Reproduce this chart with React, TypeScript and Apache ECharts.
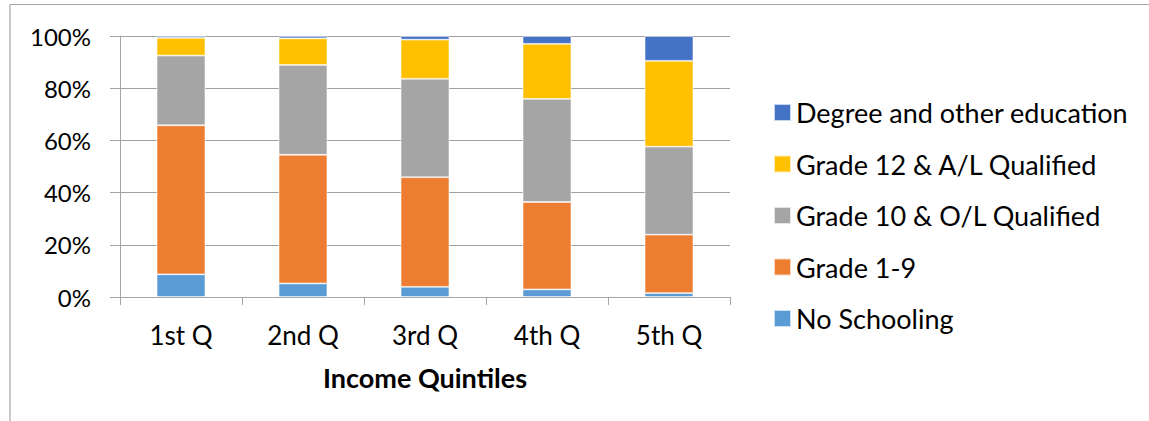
import React, { useEffect, useRef } from "react";
import * as echarts from "echarts";

const categories = ["1st Q", "2nd Q", "3rd Q", "4th Q", "5th Q"];
const noSchooling = [8.7, 5.2, 3.9, 2.9, 1.5];
const grade1to9 = [57.1, 49.3, 42.0, 33.5, 22.4];
const grade10OL = [26.7, 34.4, 37.7, 39.5, 33.7];
const grade12AL = [6.8, 10.2, 15.0, 21.1, 32.9];
const degree = [0.7, 0.9, 1.4, 3.0, 9.5];
const yTicks = [0, 20, 40, 60, 80, 100];

const seriesDefs = [
  { name: "No Schooling", data: noSchooling, color: "#5B9BD5" },
  { name: "Grade 1-9", data: grade1to9, color: "#ED7D31" },
  { name: "Grade 10 & O/L Qualified", data: grade10OL, color: "#A5A5A5" },
  { name: "Grade 12 & A/L Qualified", data: grade12AL, color: "#FFC000" },
  { name: "Degree and other education", data: degree, color: "#4472C4" },
];

const FONT = "Lato";

export default function App() {
  const ref = useRef<HTMLDivElement>(null);
  useEffect(() => {
    if (!ref.current) return;
    const chart = echarts.init(ref.current, undefined, { renderer: "svg" });
    chart.setOption({
      animation: false,
      backgroundColor: "#ffffff",
      textStyle: { fontFamily: FONT },
      grid: { left: 120, top: 36, width: 610, height: 261, containLabel: false },
      graphic: [
        { type: "line", shape: { x1: 10, y1: 4.5, x2: 1149, y2: 4.5 }, style: { stroke: "#a6a6a6", lineWidth: 1.2 } },
        { type: "line", shape: { x1: 10, y1: 4.5, x2: 10, y2: 421 }, style: { stroke: "#a6a6a6", lineWidth: 1.2 } },
      ],
      legend: {
        orient: "vertical",
        left: 773,
        top: 99,
        padding: 0,
        itemWidth: 17,
        itemHeight: 17,
        itemGap: 24.5,
        icon: "rect",
        selectedMode: false,
        data: [...seriesDefs].reverse().map((s) => s.name),
        textStyle: { fontFamily: FONT, fontSize: 27, color: "#000" },
      },
      xAxis: {
        type: "category",
        data: categories,
        name: "Income Quintiles",
        nameLocation: "middle",
        nameGap: 67,
        nameTextStyle: { fontFamily: FONT, fontSize: 27, fontWeight: "bold", color: "#000" },
        axisLine: { lineStyle: { color: "#a6a6a6", width: 1 } },
        axisTick: { show: true, length: 8, lineStyle: { color: "#a6a6a6" } },
        axisLabel: { fontFamily: FONT, fontSize: 26, color: "#000", margin: 25 },
      },
      yAxis: {
        type: "value",
        min: yTicks[0],
        max: yTicks[yTicks.length - 1],
        interval: 20,
        axisLine: { show: true, lineStyle: { color: "#a6a6a6", width: 1 } },
        axisTick: { show: true, length: 10, lineStyle: { color: "#a6a6a6" } },
        axisLabel: { fontFamily: FONT, fontSize: 24, color: "#000", margin: 29, formatter: "{value}%" },
        splitLine: { show: true, lineStyle: { color: "#a0a0a0", width: 1 } },
      },
      series: seriesDefs.map((s) => ({
        name: s.name,
        type: "bar",
        stack: "total",
        barWidth: "40%",
        data: s.data,
        itemStyle: { color: s.color, borderColor: "rgba(255,255,255,0.7)", borderWidth: 0.8 },
      })),
    });
    return () => chart.dispose();
  }, []);
  return (
    <div
      ref={ref}
      style={{ position: "absolute", left: 0, top: 0, width: 1149, height: 421 }}
    />
  );
}
